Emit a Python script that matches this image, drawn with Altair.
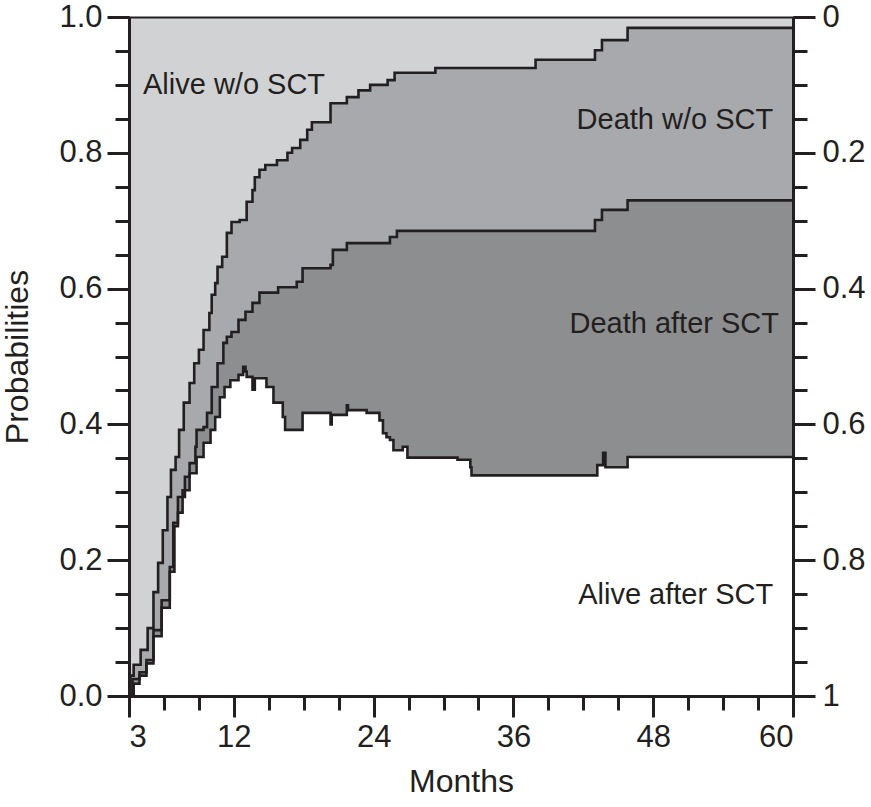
import altair as alt
import pandas as pd

# ---- curve values (month, cumulative probability) ----
# lower boundary: Alive after SCT / Death after SCT
c1_month = [3.0, 3.4, 3.9, 4.5, 5.1, 5.8, 6.5, 6.9, 7.2, 7.6, 8.2, 8.8, 9.4, 10.0, 10.4, 10.8,
            11.2, 11.7, 12.4, 12.8, 13.0, 13.1, 13.6, 13.8, 14.8, 15.4, 16.2, 16.4, 17.9,
            20.3, 20.4, 21.7, 21.8, 23.4, 24.5, 24.8, 25.1, 25.4, 25.7, 26.5, 26.9, 31.2,
            32.3, 32.4, 43.2, 43.7, 43.9, 45.8]
c1_prob = [0.0, 0.018, 0.030, 0.048, 0.088, 0.130, 0.183, 0.250, 0.270, 0.303, 0.328, 0.352,
           0.373, 0.392, 0.411, 0.440, 0.455, 0.465, 0.473, 0.485, 0.478, 0.470, 0.451, 0.468,
           0.455, 0.432, 0.411, 0.392, 0.417, 0.400, 0.414, 0.428, 0.421, 0.417, 0.406, 0.387,
           0.381, 0.377, 0.362, 0.367, 0.351, 0.348, 0.337, 0.325, 0.340, 0.358, 0.337, 0.352]

# middle boundary: Death after SCT / Death w/o SCT
c2_month = [3.0, 3.3, 3.9, 4.5, 5.1, 5.8, 6.5, 6.8, 7.2, 7.8, 8.2, 8.7, 8.8, 9.4, 9.7, 10.1,
            10.6, 11.1, 11.4, 11.8, 12.4, 13.0, 13.6, 14.2, 15.8, 17.4, 17.9, 20.3, 20.5, 21.7,
            25.4, 26.0, 43.0, 43.6, 45.8]
c2_prob = [0.0, 0.025, 0.035, 0.053, 0.097, 0.141, 0.190, 0.255, 0.293, 0.323, 0.343, 0.367,
           0.392, 0.396, 0.417, 0.455, 0.490, 0.520, 0.529, 0.536, 0.554, 0.566, 0.579, 0.594,
           0.602, 0.610, 0.630, 0.635, 0.657, 0.667, 0.676, 0.685, 0.701, 0.716, 0.730]

# upper boundary: Death w/o SCT / Alive w/o SCT
c3_month = [3.0, 3.1, 3.4, 4.0, 4.6, 5.1, 5.5, 5.9, 6.3, 6.6, 7.0, 7.3, 7.7, 8.2, 8.6, 9.0,
            9.4, 9.9, 10.1, 10.4, 10.6, 11.0, 11.4, 11.8, 12.5, 13.1, 13.6, 13.8, 14.2, 14.7,
            15.7, 16.6, 17.0, 17.7, 18.3, 18.7, 20.3, 21.7, 22.7, 23.7, 25.2, 25.8, 29.3,
            37.9, 43.0, 43.6, 45.8]
c3_prob = [0.0, 0.030, 0.046, 0.068, 0.100, 0.153, 0.196, 0.244, 0.293, 0.333, 0.352, 0.392,
           0.432, 0.461, 0.490, 0.510, 0.539, 0.564, 0.591, 0.608, 0.632, 0.647, 0.682, 0.698,
           0.701, 0.728, 0.745, 0.764, 0.775, 0.782, 0.789, 0.800, 0.807, 0.819, 0.834, 0.845,
           0.873, 0.882, 0.892, 0.900, 0.907, 0.918, 0.925, 0.937, 0.951, 0.966, 0.984]

end_month = 60

x_major = [3, 12, 24, 36, 48, 60]
x_minor = [3, 6, 9, 12, 15, 18, 21, 24, 27, 30, 33, 36, 39, 42, 45, 48, 51, 54, 57, 60]
y_major = [0.0, 0.2, 0.4, 0.6, 0.8, 1.0]
y_minor = [0.0, 0.05, 0.1, 0.15, 0.2, 0.25, 0.3, 0.35, 0.4, 0.45, 0.5, 0.55, 0.6, 0.65,
           0.7, 0.75, 0.8, 0.85, 0.9, 0.95, 1.0]

label_left_text = ["Alive w/o SCT"]
label_left_month = [4.2]
label_left_prob = [0.90]
label_right_text = ["Death w/o SCT", "Death after SCT", "Alive after SCT"]
label_right_month = [58.3, 58.8, 58.3]
label_right_prob = [0.848, 0.548, 0.149]

# ---- build the step table on a common month grid ----
grid = sorted(set(c1_month + c2_month + c3_month + [end_month]))


def step_on_grid(ms, ps):
    out, j = [], 0
    for t in grid:
        while j + 1 < len(ms) and ms[j + 1] <= t:
            j += 1
        out.append(ps[j])
    return out


df = pd.DataFrame({
    "month": grid,
    "c1": step_on_grid(c1_month, c1_prob),
    "c2": step_on_grid(c2_month, c2_prob),
    "c3": step_on_grid(c3_month, c3_prob),
})
df["top"] = 1.0

lab_l = pd.DataFrame({"t": label_left_text, "m": label_left_month, "p": label_left_prob})
lab_r = pd.DataFrame({"t": label_right_text, "m": label_right_month, "p": label_right_prob})

INK = "#231f20"
LIGHT = "#d1d2d4"
MID = "#a7a9ac"
DARK = "#8d8e90"
FONT = "Liberation Sans"

xs = alt.Scale(domain=[3, 60], nice=False, zero=False)
ys = alt.Scale(domain=[0, 1], nice=False, zero=False)

ax_x_major = alt.Axis(orient="bottom", values=x_major, tickSize=21, tickWidth=3,
                      domainWidth=3, labelFontSize=31, labelPadding=5,
                      title="Months", titleFontSize=32, titlePadding=14, zindex=2)
ax_x_minor = alt.Axis(orient="bottom", values=x_minor, tickSize=14, tickWidth=3,
                      domain=False, labels=False, title=None, zindex=2)
ax_x_top = alt.Axis(orient="top", ticks=False, labels=False, domainWidth=2,
                    title=None, zindex=2)
ax_y_left_major = alt.Axis(orient="left", values=y_major, tickSize=22, tickWidth=3,
                           domainWidth=3, labelFontSize=31, labelPadding=5,
                           labelExpr="format(datum.value, '.1f')",
                           title="Probabilities", titleFontSize=32, titlePadding=24,
                           zindex=2)
ax_y_left_minor = alt.Axis(orient="left", values=y_minor, tickSize=14, tickWidth=3,
                           domain=False, labels=False, title=None, zindex=2)
ax_y_right_major = alt.Axis(orient="right", values=y_major, tickSize=22, tickWidth=3,
                            domainWidth=3, labelFontSize=31, labelPadding=7,
                            labelExpr="datum.value == 1 ? '0' : (datum.value == 0 ? '1' : format(1 - datum.value, '.1f'))",
                            title=None, zindex=2)
ax_y_right_minor = alt.Axis(orient="right", values=y_minor, tickSize=14, tickWidth=3,
                            domain=False, labels=False, title=None, zindex=2)

base = alt.Chart(df)

area_alive_wo = base.mark_area(interpolate="step-after", color=LIGHT).encode(
    x=alt.X("month:Q", scale=xs, axis=ax_x_major),
    y=alt.Y("c3:Q", scale=ys, axis=ax_y_left_major),
    y2="top:Q",
)
area_death_wo = base.mark_area(interpolate="step-after", color=MID).encode(
    x=alt.X("month:Q", scale=xs, axis=ax_x_minor),
    y=alt.Y("c2:Q", scale=ys, axis=ax_y_left_minor),
    y2="c3:Q",
)
area_death_after = base.mark_area(interpolate="step-after", color=DARK).encode(
    x=alt.X("month:Q", scale=xs, axis=None),
    y=alt.Y("c1:Q", scale=ys, axis=ax_y_right_major),
    y2="c2:Q",
)
lines = base.transform_fold(["c1", "c2", "c3"], as_=["curve", "value"]).mark_line(
    interpolate="step-after", color=INK, strokeWidth=2.6
).encode(
    x=alt.X("month:Q", scale=xs, axis=None),
    y=alt.Y("value:Q", scale=ys, axis=ax_y_right_minor),
    detail="curve:N",
)
text_l = alt.Chart(lab_l).mark_text(align="left", baseline="middle", fontSize=29,
                                    font=FONT, color=INK).encode(
    x=alt.X("m:Q", scale=xs, axis=ax_x_top),
    y=alt.Y("p:Q", scale=ys, axis=None),
    text="t:N",
)
text_r = alt.Chart(lab_r).mark_text(align="right", baseline="middle", fontSize=29,
                                    font=FONT, color=INK).encode(
    x=alt.X("m:Q", scale=xs, axis=None),
    y=alt.Y("p:Q", scale=ys, axis=None),
    text="t:N",
)

chart = alt.layer(
    area_alive_wo, area_death_wo, area_death_after, lines, text_l, text_r
).resolve_axis(x="independent", y="independent").properties(
    width=664, height=679,
    autosize=alt.AutoSizeParams(type="none"),
    padding={"left": 129, "top": 17, "right": 78, "bottom": 111},
).configure_view(stroke=None).configure_axis(
    grid=False, domainColor=INK, tickColor=INK, labelColor=INK, titleColor=INK,
    labelFont=FONT, titleFont=FONT, titleFontWeight="normal",
)

chart.save("out.html", embed_options={"renderer": "svg", "actions": False})
